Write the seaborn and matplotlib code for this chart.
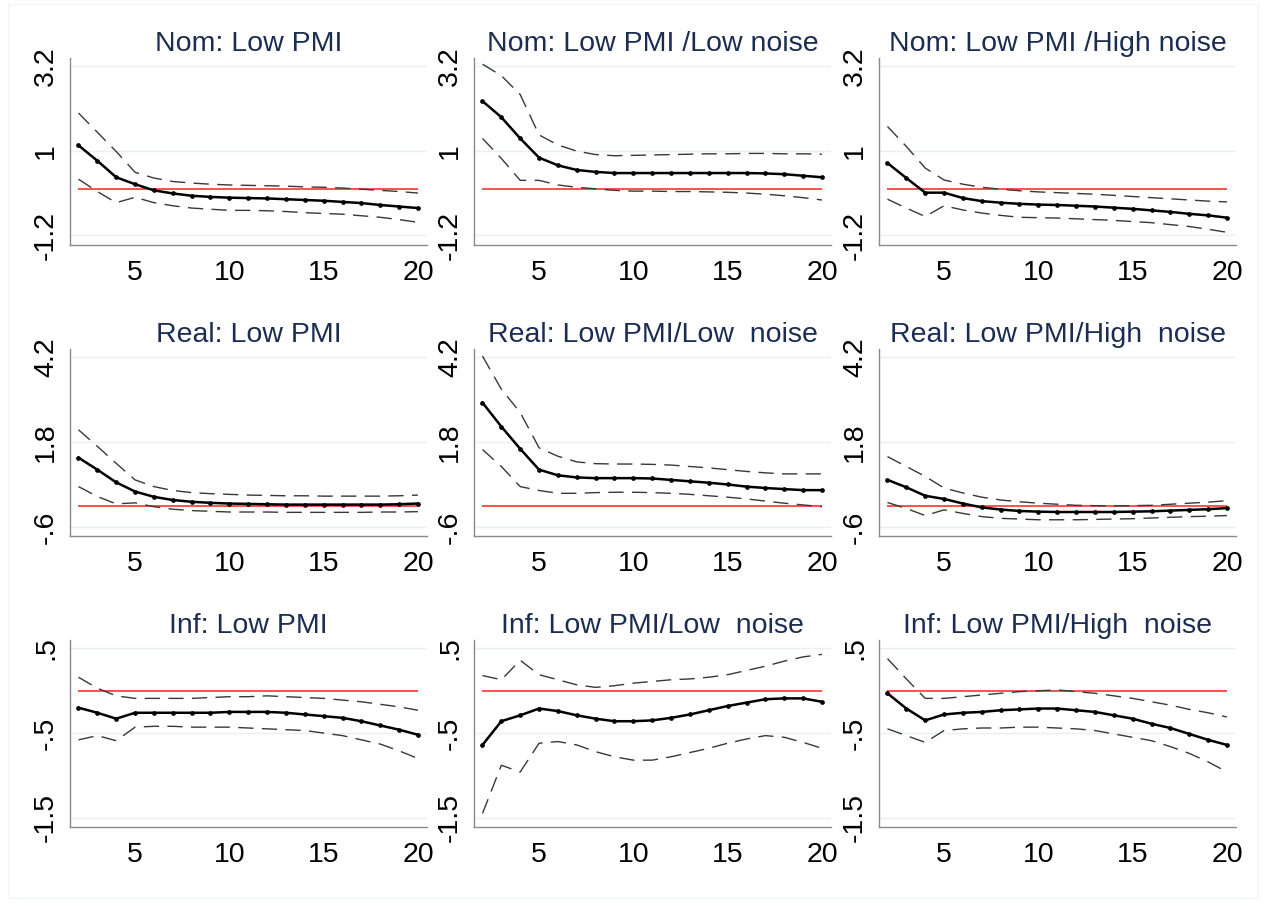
import numpy as np
import pandas as pd
import matplotlib
matplotlib.use("Agg")
import matplotlib.pyplot as plt
from matplotlib.patches import Rectangle
import seaborn as sns

# Horizon (periods after the shock)
steps = list(range(2, 21))

titles = [
    "Nom: Low PMI", "Nom: Low PMI /Low noise", "Nom: Low PMI /High noise",
    "Real: Low PMI", "Real: Low PMI/Low  noise", "Real: Low PMI/High  noise",
    "Inf: Low PMI", "Inf: Low PMI/Low  noise", "Inf: Low PMI/High  noise",
]

# Nominal rate responses
nom_low_mean = [1.14, 0.74, 0.31, 0.13, -0.03, -0.11, -0.17, -0.20, -0.22, -0.23, -0.24, -0.26, -0.28, -0.30, -0.33, -0.36, -0.41, -0.45, -0.49]
nom_low_hi = [1.98, 1.48, 0.98, 0.44, 0.29, 0.20, 0.16, 0.13, 0.11, 0.10, 0.09, 0.08, 0.06, 0.05, 0.03, 0.00, -0.03, -0.06, -0.10]
nom_low_lo = [0.26, -0.06, -0.35, -0.21, -0.35, -0.43, -0.49, -0.52, -0.55, -0.55, -0.56, -0.58, -0.61, -0.63, -0.65, -0.69, -0.73, -0.79, -0.86]

nom_lown_mean = [2.29, 1.87, 1.32, 0.82, 0.62, 0.50, 0.45, 0.42, 0.42, 0.42, 0.42, 0.42, 0.42, 0.42, 0.42, 0.41, 0.39, 0.35, 0.31]
nom_lown_hi = [3.25, 2.95, 2.46, 1.41, 1.15, 0.99, 0.90, 0.87, 0.88, 0.89, 0.90, 0.91, 0.92, 0.92, 0.93, 0.93, 0.92, 0.92, 0.91]
nom_lown_lo = [1.32, 0.80, 0.23, 0.23, 0.11, 0.05, 0.01, -0.03, -0.05, -0.05, -0.06, -0.06, -0.07, -0.08, -0.10, -0.13, -0.17, -0.22, -0.28]

nom_highn_mean = [0.68, 0.29, -0.09, -0.09, -0.23, -0.31, -0.35, -0.38, -0.40, -0.41, -0.43, -0.45, -0.48, -0.51, -0.55, -0.59, -0.64, -0.68, -0.74]
nom_highn_hi = [1.63, 1.11, 0.55, 0.24, 0.13, 0.05, 0.00, -0.04, -0.07, -0.09, -0.11, -0.13, -0.16, -0.19, -0.22, -0.25, -0.28, -0.31, -0.33]
nom_highn_lo = [-0.26, -0.49, -0.71, -0.43, -0.54, -0.62, -0.68, -0.73, -0.74, -0.75, -0.77, -0.79, -0.81, -0.84, -0.87, -0.92, -0.97, -1.04, -1.12]

# Real activity responses
real_low_mean = [1.36, 1.02, 0.66, 0.40, 0.25, 0.16, 0.11, 0.08, 0.06, 0.05, 0.04, 0.03, 0.03, 0.03, 0.03, 0.03, 0.03, 0.04, 0.06]
real_low_hi = [2.15, 1.68, 1.20, 0.73, 0.54, 0.43, 0.37, 0.34, 0.32, 0.30, 0.29, 0.28, 0.28, 0.27, 0.27, 0.27, 0.27, 0.28, 0.30]
real_low_lo = [0.54, 0.26, 0.05, 0.08, -0.03, -0.10, -0.14, -0.16, -0.18, -0.18, -0.18, -0.19, -0.19, -0.19, -0.19, -0.19, -0.18, -0.18, -0.17]

real_lown_mean = [2.92, 2.24, 1.61, 1.02, 0.86, 0.80, 0.78, 0.78, 0.78, 0.77, 0.73, 0.69, 0.65, 0.60, 0.54, 0.50, 0.47, 0.44, 0.44]
real_lown_hi = [4.24, 3.30, 2.64, 1.64, 1.40, 1.24, 1.19, 1.18, 1.18, 1.17, 1.15, 1.11, 1.07, 1.02, 0.97, 0.93, 0.90, 0.90, 0.90]
real_lown_lo = [1.59, 1.11, 0.54, 0.43, 0.35, 0.35, 0.37, 0.38, 0.38, 0.37, 0.35, 0.32, 0.28, 0.24, 0.19, 0.13, 0.07, 0.02, -0.03]

real_highn_mean = [0.73, 0.52, 0.28, 0.19, 0.06, -0.05, -0.11, -0.15, -0.17, -0.18, -0.18, -0.18, -0.18, -0.17, -0.16, -0.14, -0.12, -0.10, -0.07]
real_highn_hi = [1.39, 1.11, 0.83, 0.50, 0.36, 0.24, 0.16, 0.11, 0.07, 0.04, 0.01, 0.00, -0.01, 0.00, 0.01, 0.04, 0.07, 0.10, 0.14]
real_highn_lo = [0.09, -0.08, -0.28, -0.12, -0.22, -0.31, -0.36, -0.38, -0.40, -0.40, -0.40, -0.39, -0.38, -0.37, -0.35, -0.33, -0.31, -0.30, -0.28]

# Inflation responses
inf_low_mean = [-0.20, -0.26, -0.33, -0.26, -0.26, -0.26, -0.26, -0.26, -0.25, -0.25, -0.25, -0.26, -0.28, -0.30, -0.32, -0.36, -0.41, -0.46, -0.52]
inf_low_hi = [0.16, 0.03, -0.06, -0.09, -0.09, -0.09, -0.09, -0.08, -0.07, -0.07, -0.06, -0.07, -0.08, -0.09, -0.11, -0.13, -0.16, -0.19, -0.23]
inf_low_lo = [-0.58, -0.53, -0.59, -0.43, -0.42, -0.42, -0.43, -0.43, -0.43, -0.44, -0.45, -0.46, -0.47, -0.50, -0.53, -0.58, -0.63, -0.71, -0.80]

inf_lown_mean = [-0.64, -0.36, -0.29, -0.21, -0.24, -0.29, -0.33, -0.36, -0.36, -0.35, -0.32, -0.28, -0.23, -0.18, -0.14, -0.10, -0.09, -0.09, -0.13]
inf_lown_hi = [0.18, 0.13, 0.36, 0.19, 0.13, 0.07, 0.04, 0.06, 0.09, 0.11, 0.13, 0.14, 0.16, 0.19, 0.24, 0.29, 0.35, 0.40, 0.43]
inf_lown_lo = [-1.45, -0.88, -0.96, -0.62, -0.60, -0.64, -0.72, -0.78, -0.82, -0.82, -0.78, -0.73, -0.68, -0.62, -0.57, -0.53, -0.55, -0.61, -0.68]

inf_highn_mean = [-0.03, -0.21, -0.35, -0.28, -0.26, -0.25, -0.23, -0.22, -0.21, -0.21, -0.23, -0.25, -0.29, -0.33, -0.39, -0.44, -0.51, -0.58, -0.64]
inf_highn_hi = [0.38, 0.14, -0.09, -0.09, -0.07, -0.05, -0.03, -0.01, 0.00, 0.01, -0.01, -0.03, -0.06, -0.09, -0.13, -0.17, -0.22, -0.26, -0.31]
inf_highn_lo = [-0.45, -0.53, -0.61, -0.47, -0.45, -0.44, -0.44, -0.43, -0.43, -0.44, -0.45, -0.47, -0.51, -0.55, -0.59, -0.66, -0.74, -0.84, -0.96]

panels = [
    (nom_low_mean, nom_low_hi, nom_low_lo),
    (nom_lown_mean, nom_lown_hi, nom_lown_lo),
    (nom_highn_mean, nom_highn_hi, nom_highn_lo),
    (real_low_mean, real_low_hi, real_low_lo),
    (real_lown_mean, real_lown_hi, real_lown_lo),
    (real_highn_mean, real_highn_hi, real_highn_lo),
    (inf_low_mean, inf_low_hi, inf_low_lo),
    (inf_lown_mean, inf_lown_hi, inf_lown_lo),
    (inf_highn_mean, inf_highn_hi, inf_highn_lo),
]

# Per-row y ticks, their labels, and axis ranges
row_yticks = [[-1.2, 1.0, 3.2], [-0.6, 1.8, 4.2], [-1.5, -0.5, 0.5]]
row_ylabels = [["-1.2", "1", "3.2"], ["-.6", "1.8", "4.2"], ["-1.5", "-.5", ".5"]]
row_ylims = [(-1.45, 3.41), (-0.86, 4.44), (-1.61, 0.60)]
xticks = [5, 10, 15, 20]

sns.set_style("white")
plt.rcParams["font.family"] = ["Liberation Sans", "DejaVu Sans"]

W, H = 1263, 913
fig = plt.figure(figsize=(W / 100, H / 100), dpi=100)
fig.patch.set_facecolor("white")

# faint outline of the combined graph region
fig.patches.append(Rectangle((8 / W, 1 - 898 / H), 1250 / W, 894 / H,
                             transform=fig.transFigure, fill=False,
                             edgecolor="#f1f5f5", lw=1.0, zorder=0))

col_left = [70, 474, 879]
row_top = [58, 349, 640]
ax_w, ax_h = 357, 187

title_color = "#1c2d52"
grid_color = "#e8f0f0"
axis_color = "#8a8a8a"

for i, (mean, hi, lo) in enumerate(panels):
    r, c = divmod(i, 3)
    ax = fig.add_axes([col_left[c] / W, 1 - (row_top[r] + ax_h) / H, ax_w / W, ax_h / H])
    ax.patch.set_alpha(0)

    df = pd.DataFrame({"step": steps, "mean": mean, "hi": hi, "lo": lo})

    for t in row_yticks[r]:
        ax.axhline(t, color=grid_color, lw=1.0, zorder=0)

    ax.hlines(0, steps[0], steps[-1], color="#ff2020", lw=1.1, zorder=2)

    for band in ("hi", "lo"):
        sns.lineplot(data=df, x="step", y=band, ax=ax, color="#383838", lw=1.0,
                     linestyle=(0, (11, 6)), zorder=3)
    sns.lineplot(data=df, x="step", y="mean", ax=ax, color="black", lw=1.8,
                 marker="o", markersize=3.4, markeredgewidth=0, zorder=4)

    ax.set_xlim(1.55, 20.48)
    ax.set_ylim(*row_ylims[r])
    ax.set_xticks(xticks)
    ax.set_xticklabels([str(v) for v in xticks])
    ax.set_yticks(row_yticks[r])
    ax.set_yticklabels(row_ylabels[r], rotation=90, va="center")
    ax.set_xlabel("")
    ax.set_ylabel("")
    ax.set_title(titles[i], color=title_color, fontsize=20.5, pad=5)

    for side in ("top", "right"):
        ax.spines[side].set_visible(False)
    for side in ("left", "bottom"):
        ax.spines[side].set_color(axis_color)
        ax.spines[side].set_linewidth(1.0)
    ax.tick_params(axis="both", which="major", direction="out", length=7,
                   width=1.0, color="#555555", labelsize=20.5, labelcolor="black")
    ax.tick_params(axis="x", pad=4)
    ax.tick_params(axis="y", pad=1)
    ax.grid(False)

fig.savefig("out.png", dpi=100, facecolor="white")
